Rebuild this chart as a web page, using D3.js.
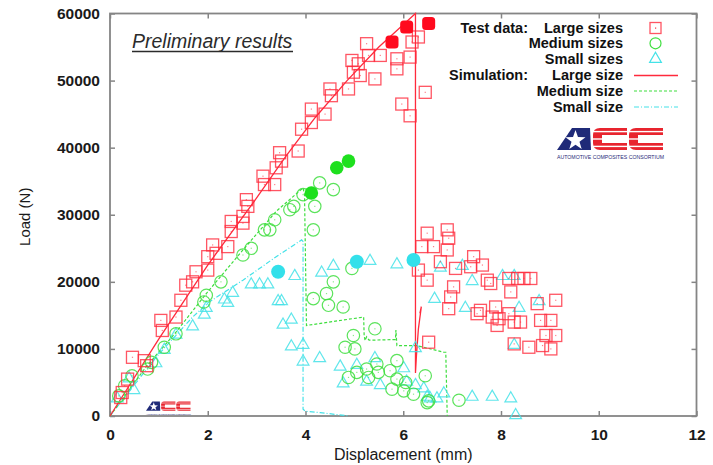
<!DOCTYPE html>
<html><head><meta charset="utf-8">
<script src="https://cdn.jsdelivr.net/npm/d3@7"></script>
<style>body{margin:0;background:#fff}svg{display:block}text{font-family:"Liberation Sans",Arial,sans-serif}</style>
</head><body>
<svg id="c" width="713" height="465"></svg>
<script>
// ---------- data ----------
const xTicks = [0, 2, 4, 6, 8, 10, 12];
const yTicks = [0, 10000, 20000, 30000, 40000, 50000, 60000];

const largeSizes = [[0.22,2750],[0.25,3500],[0.36,5500],[0.46,8750],[0.70,8250],[0.75,7500],[1.04,14250],[1.07,12750],
 [1.35,14750],[1.45,17250],[1.55,19500],[1.69,20000],[1.76,21500],[2.0,21750],[2.0,23750],[2.10,25500],[2.17,24250],
 [2.41,25250],[2.48,27500],[2.48,29000],[2.72,28750],[2.72,29750],[2.79,32250],[2.82,31250],[3.13,35750],[3.16,34500],
 [3.37,34500],[3.40,37000],[3.51,38000],[3.47,39250],[3.85,39500],[3.92,42750],[4.12,43750],[4.12,45750],[4.40,45000],
 [4.50,48750],[4.53,47750],[4.88,48750],[4.95,53000],[4.98,51250],[5.08,52500],[5.12,50750],[5.25,55500],[5.29,53750],
 [5.42,50250],[5.53,53750],[5.87,53250],[5.87,51750],[6.14,53500],[6.18,55750],[6.31,56500],[6.45,48250],[5.97,46500],
 [6.14,44750],
 [6.49,27250],[6.90,27750],[6.93,26500],[6.38,25250],[6.62,25250],[6.90,24750],[6.31,21750],[6.49,20250],[6.76,23000],
 [7.07,22000],[7.44,23750],[7.38,22250],[7.62,22500],[7.03,19250],[6.97,17750],[6.93,16000],[7.72,20250],[7.79,19750],
 [8.16,20500],[8.34,20500],[8.47,20500],[8.61,20500],[8.20,18500],[7.89,16250],[7.51,15250],[7.58,15750],[7.82,14750],
 [7.96,14500],[7.92,13500],[8.16,15250],[8.27,14000],[8.40,14000],[8.74,16750],[9.12,17250],[8.81,14250],[9.02,14250],
 [8.92,12000],[9.12,12000],[8.27,10750],[8.57,10250],[8.85,10500],[9.02,10000],[6.52,11000]];
const largeFilled = [[5.77,55750],[6.07,58000],[6.52,58500]];

const mediumSizes = [[0.18,3000],[0.30,4500],[0.45,6000],[0.77,7000],[0.85,8000],[1.11,10250],[1.35,12250],[1.92,17000],
 [1.97,18000],[2.27,20000],[2.72,24000],[2.89,25000],[3.16,27750],[3.27,27750],[3.37,29250],[3.68,30750],[3.76,31250],
 [3.95,33000],[4.29,34750],[4.57,33750],[4.19,31250],[4.16,27750],[4.57,20000],[4.43,18250],[4.16,17500],[4.47,16500],
 [4.77,16250],[4.95,22000],[5.42,13000],[4.98,12000],[4.81,10250],[5.01,10000],[4.88,5750],[5.05,6500],[5.25,7000],
 [5.29,5750],[5.49,6500],[5.46,7750],[5.73,6750],[5.87,8250],[5.87,5500],[5.77,4000],[6.01,3750],[6.05,5000],[6.21,3250],
 [6.45,6000],[6.49,2000],[6.52,2250],[7.14,2350]];
const mediumFilled = [[4.12,33250],[4.64,37000],[4.88,38000]];

const smallSizes = [[0.15,2750],[0.39,5750],[0.49,4000],[0.94,8000],[1.11,10000],[1.35,12250],[1.69,13500],[1.93,15250],
 [1.97,16250],[2.34,17500],[2.41,17000],[2.51,18500],[2.89,19750],[3.06,19750],[3.23,19750],[3.44,17250],[3.51,17250],
 [3.54,13750],[3.71,14500],[3.78,21000],[3.71,10500],[3.95,10750],[3.95,8250],[4.29,8750],[4.33,21500],[4.57,22500],
 [5.32,23250],[5.87,22750],[6.64,17600],[4.71,7500],[5.05,7750],[5.42,8750],[4.77,5000],[5.25,5250],[5.53,4750],
 [6.01,7250],[6.07,5250],[6.42,4250],[6.55,2750],[6.69,2750],[6.76,22250],[7.21,22500],[7.41,20250],[7.27,16250],
 [8.03,21000],[8.27,21000],[8.37,16250],[8.78,17250],[8.27,10750],[6.25,10250],[6.25,4750],[6.49,3000],[6.83,3500],
 [7.41,3000],[7.82,3000],[8.20,2750],[8.30,250]];
const smallFilled = [[3.44,21500],[5.05,23000],[6.21,23250]];

const simLarge = [[0,0],[1,11500],[2,22500],[3,32500],[3.6,38750],[4.2,44500],[4.85,50000],[5.5,55000],[6.25,60000],
 [6.25,6400],[6.27,9000],[6.31,13000],[6.37,16300],[6.34,15300]];
const simMedium = [[0,0],[0.73,7250],[1.35,12500],[1.97,18250],[2.72,24750],[3.4,30500],[3.95,34000],[3.98,33000],
 [4.02,13500],[5.19,14750],[5.2,12000],[5.22,11250],[5.25,11800],[5.3,11300],[5.84,11400],[5.85,12800],[5.87,10500],
 [6.28,10500],[6.83,9500],[6.87,9500],[6.9,0]];
const simSmall = [[0,0],[0.94,8750],[1.69,14750],[2.03,17000],[2.72,20250],[3.4,23750],[3.92,26250],[3.95,26000],
 [3.95,1000],[4.0,700],[4.3,500],[4.9,0]];

const legendTest = ["Large sizes","Medium sizes","Small sizes"];
const legendSim = ["Large size","Medium size","Small size"];

// ---------- setup ----------
const RED="#ff2a3c", GREEN="#3ede3e", CYAN="#44e2e8", FRAME="#858585";
const L=110, R=696.5, T=13.5, B=416;
const svg=d3.select("#c");
const x=d3.scaleLinear().domain([0,12]).range([L,R]);
const y=d3.scaleLinear().domain([0,60000]).range([B,T]);

function styleAxis(g){
  g.select(".domain").remove();
  g.selectAll(".tick line").attr("stroke",FRAME).attr("stroke-width",1.5);
  g.selectAll(".tick text").attr("fill","#1a1a1a").style("font-size","15.5px").style("font-weight","bold")
   .style("font-family",'"Liberation Sans",Arial,sans-serif');
}
svg.append("g").attr("transform",`translate(0,${B})`)
  .call(d3.axisBottom(x).tickValues(xTicks).tickFormat(d3.format("d")).tickSizeInner(-5).tickSizeOuter(0).tickPadding(13))
  .call(styleAxis);
svg.append("g").attr("transform",`translate(0,${T})`)
  .call(d3.axisTop(x).tickValues(xTicks).tickFormat("").tickSizeInner(-5).tickSizeOuter(0)).call(styleAxis);
svg.append("g").attr("transform",`translate(${L},0)`)
  .call(d3.axisLeft(y).tickValues(yTicks).tickFormat(d3.format("d")).tickSizeInner(-5).tickSizeOuter(0).tickPadding(10))
  .call(styleAxis);
svg.append("g").attr("transform",`translate(${R},0)`)
  .call(d3.axisRight(y).tickValues(yTicks).tickFormat("").tickSizeInner(-5).tickSizeOuter(0)).call(styleAxis);

svg.append("rect").attr("x",L).attr("y",T).attr("width",R-L).attr("height",B-T)
  .attr("fill","none").attr("stroke",FRAME).attr("stroke-width",1.8);

svg.append("text").attr("transform",`translate(30,${(T+B)/2+2}) rotate(-90)`).attr("text-anchor","middle")
  .style("font-size","15px").attr("fill","#1a1a1a").text("Load (N)");
svg.append("text").attr("x",(L+R)/2).attr("y",460).attr("text-anchor","middle")
  .style("font-size","16px").attr("fill","#1a1a1a").text("Displacement (mm)");

svg.append("text").attr("x",132).attr("y",47.5).style("font-size","19.5px").style("font-style","italic")
  .attr("fill","#2b2b2b").text("Preliminary results");
svg.append("line").attr("x1",132).attr("x2",293).attr("y1",51.5).attr("y2",51.5).attr("stroke","#2b2b2b").attr("stroke-width",1.3);

// ---------- logos ----------
function starPts(cx,cy,ro,ri){
  const p=[];for(let i=0;i<10;i++){const a=-Math.PI/2+i*Math.PI/5;const r=i%2?ri:ro;p.push([cx+r*Math.cos(a),cy+r*Math.sin(a)]);}
  return p.map(d=>d.join(",")).join(" ");
}
function logo(x0,y0,s,withText){
  const g=svg.append("g").attr("transform",`translate(${x0},${y0}) scale(${s})`);
  g.append("polygon").attr("points","0,22 15,0 33,0 34,22").attr("fill","#1f2a78");
  g.append("polygon").attr("points",starPts(18.5,12.5,10.5,4.2)).attr("fill","#fff");
  [36,72].forEach(cx=>{
    const w=34;
    g.append("path").attr("d",`M${cx+w},0 H${cx+7} Q${cx},0 ${cx},7 V15 Q${cx},22 ${cx+7},22 H${cx+w} V15 H${cx+9} V7 H${cx+w} Z`)
      .attr("fill","#e8242e");
    [3.6,11,18.4].forEach(yy=>g.append("rect").attr("x",cx-1).attr("y",yy-0.7).attr("width",w+2).attr("height",1.4).attr("fill","#fff"));
  });
  if(withText){
    g.append("text").attr("x",0).attr("y",31).attr("textLength",107).attr("lengthAdjust","spacingAndGlyphs")
      .style("font-size","6px").attr("fill","#1f2a78").text("AUTOMOTIVE COMPOSITES CONSORTIUM");
  }
  return g;
}
logo(557,128,1,true);
logo(146,401.5,0.42,true);

// ---------- simulation lines ----------
const line=d3.line().x(d=>x(d[0])).y(d=>y(d[1]));
svg.append("path").attr("d",line(simSmall)).attr("fill","none").attr("stroke",CYAN).attr("stroke-width",1.2).attr("stroke-dasharray","5,2,1,2");
svg.append("path").attr("d",line(simMedium)).attr("fill","none").attr("stroke",GREEN).attr("stroke-width",1.2).attr("stroke-dasharray","3,2");
svg.append("path").attr("d",line(simLarge)).attr("fill","none").attr("stroke",RED).attr("stroke-width",1.3);

// ---------- markers ----------
const mk=svg.append("g");
function squares(data,col){
  mk.append("g").selectAll("rect").data(data).join("rect")
    .attr("x",d=>x(d[0])-6).attr("y",d=>y(d[1])-6).attr("width",12).attr("height",12)
    .attr("fill","none").attr("stroke",col).attr("stroke-width",1.3).attr("stroke-opacity",0.8);
}
function circles(data,col){
  mk.append("g").selectAll("circle").data(data).join("circle")
    .attr("cx",d=>x(d[0])).attr("cy",d=>y(d[1])).attr("r",6.2)
    .attr("fill","none").attr("stroke",col).attr("stroke-width",1.2).attr("stroke-opacity",0.85);
}
const tri=d3.symbol().type(d3.symbolTriangle).size(60);
function triangles(data,col){
  mk.append("g").selectAll("path").data(data).join("path")
    .attr("transform",d=>`translate(${x(d[0])},${y(d[1])+1})`).attr("d",tri)
    .attr("fill","none").attr("stroke",col).attr("stroke-width",1.2).attr("stroke-opacity",0.85);
}
function dots(data,col){
  mk.append("g").selectAll("rect").data(data).join("rect")
    .attr("x",d=>x(d[0])-0.6).attr("y",d=>y(d[1])-0.6).attr("width",1.2).attr("height",1.2).attr("fill",col).attr("opacity",0.6);
}
triangles(smallSizes,CYAN);
circles(mediumSizes,GREEN); dots(mediumSizes,GREEN);
squares(largeSizes,RED); dots(largeSizes,RED);

mk.append("g").selectAll("circle").data(smallFilled).join("circle")
  .attr("cx",d=>x(d[0])).attr("cy",d=>y(d[1])).attr("r",7).attr("fill","#33e0ea");
mk.append("g").selectAll("circle").data(mediumFilled).join("circle")
  .attr("cx",d=>x(d[0])).attr("cy",d=>y(d[1])).attr("r",6.8).attr("fill","#1ee01e");
mk.append("g").selectAll("rect").data(largeFilled).join("rect")
  .attr("x",d=>x(d[0])-6.5).attr("y",d=>y(d[1])-6.5).attr("width",13).attr("height",13).attr("rx",3.5).attr("fill","#ff0a1e");

// ---------- legend ----------
const lg=svg.append("g");
const rowY=[32.5,48.3,64,80,95.5,111.5];
const txt=(xx,yy,t)=>lg.append("text").attr("x",xx).attr("y",yy).attr("text-anchor","end")
  .style("font-size","14.5px").style("font-weight","bold").attr("fill","#111").text(t);
txt(528,rowY[0],"Test data:");
txt(528,rowY[3],"Simulation:");
legendTest.forEach((t,i)=>txt(623,rowY[i],t));
legendSim.forEach((t,i)=>txt(623,rowY[i+3],t));
lg.append("rect").attr("x",650).attr("y",22.5).attr("width",11).attr("height",11).attr("fill","none").attr("stroke",RED).attr("stroke-width",1.3).attr("stroke-opacity",0.8);
lg.append("rect").attr("x",655).attr("y",27.5).attr("width",1.2).attr("height",1.2).attr("fill",RED);
lg.append("circle").attr("cx",655.5).attr("cy",43.3).attr("r",5.5).attr("fill","none").attr("stroke",GREEN).attr("stroke-width",1.2);
lg.append("path").attr("transform","translate(655.5,59)").attr("d",tri).attr("fill","none").attr("stroke",CYAN).attr("stroke-width",1.2);
lg.append("line").attr("x1",634).attr("x2",678).attr("y1",75.5).attr("y2",75.5).attr("stroke",RED).attr("stroke-width",1.3);
lg.append("line").attr("x1",634).attr("x2",678).attr("y1",91).attr("y2",91).attr("stroke",GREEN).attr("stroke-width",1.2).attr("stroke-dasharray","3,2");
lg.append("line").attr("x1",634).attr("x2",678).attr("y1",107).attr("y2",107).attr("stroke",CYAN).attr("stroke-width",1.2).attr("stroke-dasharray","5,2,1,2");
</script>
</body></html>
